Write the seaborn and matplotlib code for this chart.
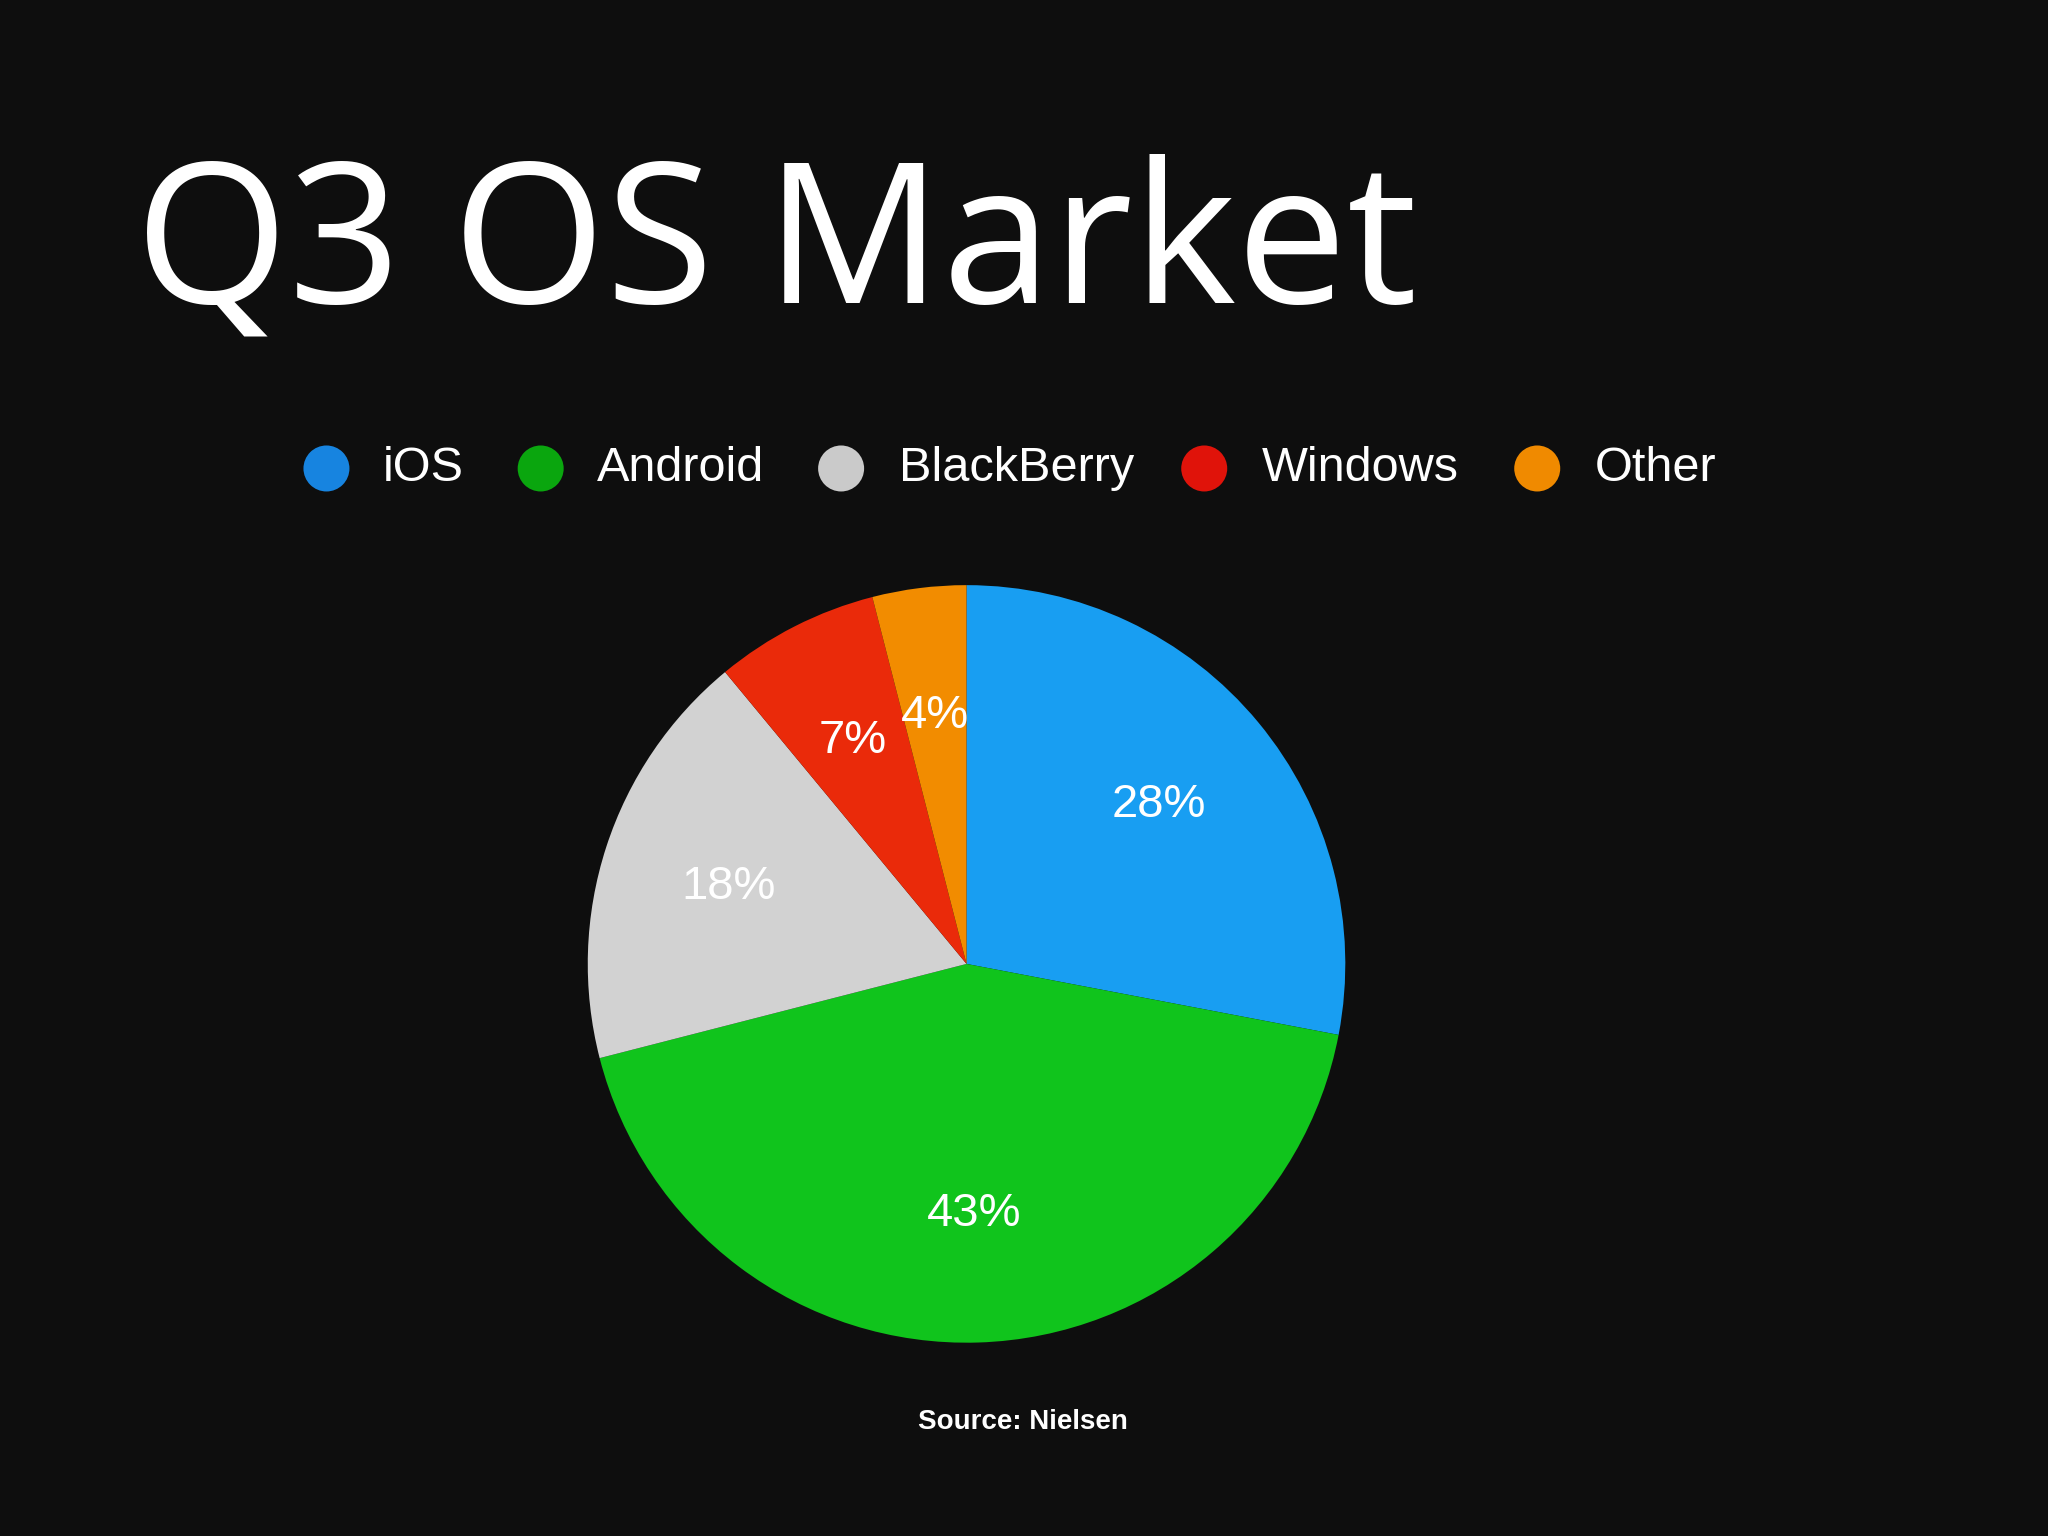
import matplotlib
matplotlib.use("Agg")
import matplotlib.pyplot as plt
import seaborn as sns
from matplotlib.patches import Ellipse

sns.set_theme(style="dark")
plt.rcParams['font.family'] = ['Open Sans', 'DejaVu Sans']

categories = ["iOS", "Android", "BlackBerry", "Windows", "Other"]
shares = [28, 43, 18, 7, 4]
slice_colors = ["#189ef2", "#10c41c", "#d2d2d2", "#ea2a0a", "#f28c00"]
legend_colors = ["#1784e0", "#0aa60e", "#cacaca", "#e0130a", "#f08a00"]
title = "Q3 OS Market"
source = "Source: Nielsen"

fig = plt.figure(figsize=(20.48, 15.36), dpi=100, facecolor="#0e0e0e")

fig.text(0.066, 0.836, title, color="white", fontsize=142, va="center", ha="left",
         family=['Open Sans', 'DejaVu Sans'])

marker_x = [0.1594, 0.2640, 0.4107, 0.5880, 0.7506]
text_x = [0.1869, 0.2915, 0.4388, 0.6161, 0.7787]
ly = 0.695
for c, col, mx, tx in zip(categories, legend_colors, marker_x, text_x):
    fig.patches.append(Ellipse((mx, ly), 46 / 2048, 46 / 1536, transform=fig.transFigure,
                               facecolor=col, edgecolor="none"))
    fig.text(tx, ly, c, color="white", fontsize=35, va="center", ha="left",
             family=['Liberation Sans', 'DejaVu Sans'])

cx, cy = 740 / 1568, 1 - 738 / 1176
w, h = 2 * 290 / 1568, 2 * 290 / 1176
ax = fig.add_axes([cx - w / 2, cy - h / 2, w, h])
ax.set_facecolor("none")
wedges, texts, autotexts = ax.pie(shares, colors=slice_colors, startangle=90, counterclock=False,
                                  autopct="%d%%", pctdistance=0.66,
                                  wedgeprops=dict(linewidth=0))
for t in autotexts:
    t.set_color("white")
    t.set_fontsize(34)
    t.set_family(['Liberation Sans', 'DejaVu Sans'])
ax.set_xlim(-1, 1)
ax.set_ylim(-1, 1)
ax.set_aspect("equal")
ax.axis("off")

fig.text(0.4994, 0.074, source, color="white", fontsize=20, fontweight="bold",
         ha="center", va="center", family=['Liberation Sans', 'DejaVu Sans'])

fig.savefig("out.png", dpi=100, facecolor=fig.get_facecolor())
